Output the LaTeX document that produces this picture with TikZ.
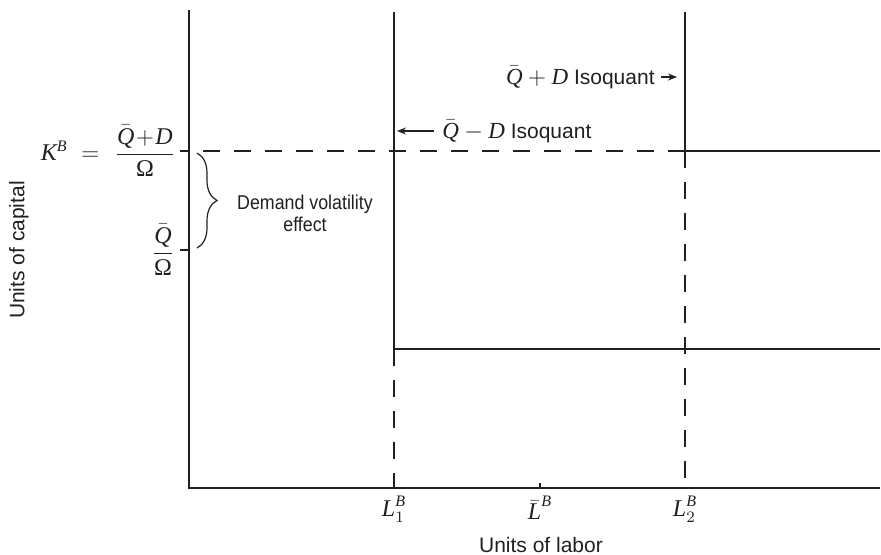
\documentclass[tikz,border=0pt]{standalone}
\usepackage{amsmath}
\usepackage[no-math]{fontspec}
\setmainfont{Liberation Serif}
\setsansfont{Liberation Sans}
\newfontfamily\narrowsans[FakeStretch=0.89]{Liberation Sans}
\usetikzlibrary{arrows.meta, decorations.pathreplacing}
\definecolor{ink}{HTML}{231F20}
% italic letters in the text serif
\newcommand{\mi}[1]{\textrm{\itshape #1}}
\newcommand{\qb}{\bar{\mi{Q}}}

\begin{document}
\begin{tikzpicture}[x=0.5pt, y=-0.5pt, >={Stealth[length=4.5pt, width=3.5pt]},
  axis/.style={ink, line width=0.75pt},
  iso/.style={ink, line width=1.25pt},
  guide/.style={ink, line width=1.25pt, dash pattern=on 8.5pt off 7pt},
  pointer/.style={ink, line width=0.7pt, ->},
  lbl/.style={text=ink, font=\sffamily\fontsize{10.5}{12.5}\selectfont, inner sep=1pt},
  mth/.style={text=ink, font=\rmfamily\fontsize{12}{14}\selectfont, inner sep=1pt}]

% Frame
\useasboundingbox (0,0) rectangle (881,554);

% ============================================================
% Axes
% ============================================================
\coordinate (O) at (189,488);
\coordinate (ytop) at (189,10);
\coordinate (xend) at (880,488);
\draw[axis] (ytop) -- (O) -- (xend);

\node[lbl, rotate=90] (ylab) at (19,250) {Units of capital};
\node[lbl] (xlab) at (541,545) {Units of labor};

% Ticks on the capital axis
\coordinate (kb) at (189,151);
\coordinate (kq) at (189,250);
\draw[axis] (kb) -- ++(-9,0);
\draw[axis] (kq) -- ++(-9,0);
\node[mth] (kblab) at (145,151) {$\dfrac{\qb\!+\!\mi{D}}{\textrm{Ω}}$};
\node[mth, anchor=east] (kbeq) at ([xshift=-2pt]kblab.west) {$\mi{K}^{\mi{B}} \;=\;$};
\node[mth] (kqlab) at (163,250) {$\dfrac{\qb}{\textrm{Ω}}$};

% Demand volatility brace
\draw[ink, line width=0.6pt, decorate, decoration={brace, amplitude=10pt}] (197,153) -- (197,248);
\node[lbl, font=\narrowsans\fontsize{10}{11}\selectfont, align=center] (dv) at (305,213) {Demand volatility\\effect};

% Ticks on the labor axis
\coordinate (l1) at (394,488);
\coordinate (lm) at (540,488);
\coordinate (l2) at (685,488);
\draw[axis] (lm) -- ++(0,-5);
\node[mth, anchor=north] (l1lab) at (394,494) {$\mi{L}_1^{\mi{B}}$};
\node[mth, anchor=north] (lmlab) at (540,494) {$\bar{\mi{L}}^{\mi{B}}$};
\node[mth, anchor=north] (l2lab) at (685,494) {$\mi{L}_2^{\mi{B}}$};

% ============================================================
% Isoquants
% ============================================================
% Qbar - D isoquant
\coordinate (lo1) at (394,12);
\coordinate (lo2) at (394,349);
\coordinate (lo3) at (880,349);
\draw[iso] (lo1) -- (lo2) -- (lo3);
\draw[guide] (lo2) -- (l1);

% Qbar + D isoquant
\coordinate (hi1) at (685,12);
\coordinate (hi2) at (685,151);
\coordinate (hi3) at (880,151);
\draw[iso] (hi1) -- (hi2) -- (hi3);
\draw[guide] (hi2) -- (l2);
\draw[guide] (hi2) -- (kb);

% Isoquant labels
\node[lbl, anchor=east] (hilab) at (657,77) {\fontsize{11.5}{13}\selectfont$\qb+\mi{D}$\fontsize{10.5}{12.5}\selectfont\ Isoquant};
\coordinate (hiarr) at (677,77);
\draw[pointer] (hilab.east) ++(4,0) -- (hiarr);

\node[lbl, anchor=west] (lolab) at (440,131) {\fontsize{11.5}{13}\selectfont$\qb-\mi{D}$\fontsize{10.5}{12.5}\selectfont\ Isoquant};
\coordinate (loarr) at (397,131);
\draw[pointer] (lolab.west) ++(-6,0) -- (loarr);

\end{tikzpicture}
\end{document}
